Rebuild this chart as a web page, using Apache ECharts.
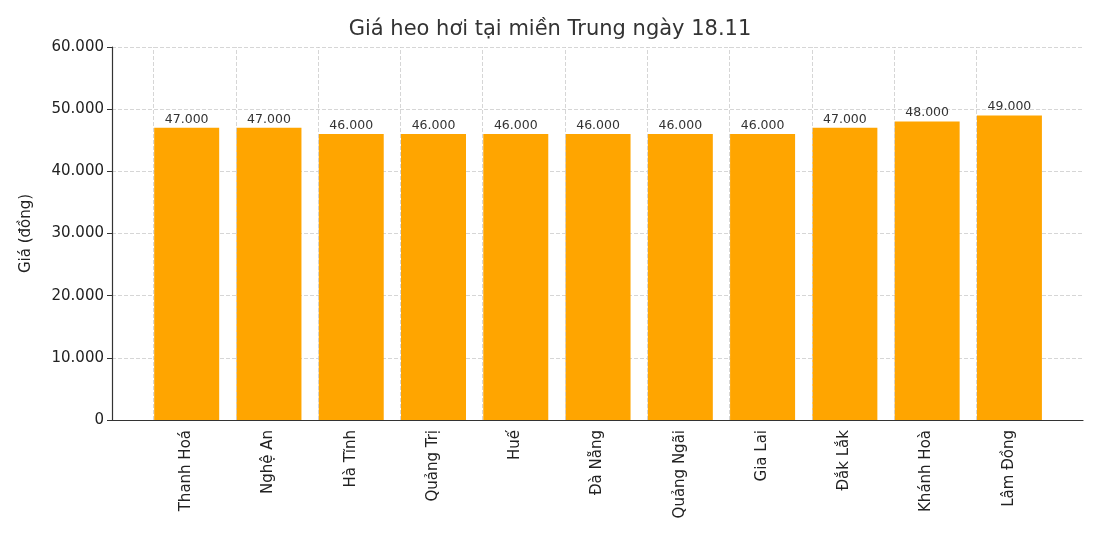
<!DOCTYPE html>
<html>
<head>
<meta charset="utf-8">
<script src="https://cdn.jsdelivr.net/npm/echarts@6/dist/echarts.min.js"></script>
<style>html,body{margin:0;background:#fff}#main{width:1100px;height:550px}</style>
</head>
<body>
<div id="main"></div>
<script>
// 数据
var provinces = ['Thanh Hoá', 'Nghệ An', 'Hà Tĩnh', 'Quảng Trị', 'Huế', 'Đà Nẵng', 'Quảng Ngãi', 'Gia Lai', 'Đắk Lắk', 'Khánh Hoà', 'Lâm Đồng']
var prices = [47000, 47000, 46000, 46000, 46000, 46000, 46000, 46000, 47000, 48000, 49000]
var yMax = 60000
var yStep = 10000

function fmt(v) {
  return String(v).replace(/\B(?=(\d{3})+(?!\d))/g, '.')
}

var font = 'DejaVu Sans'
var myChart = echarts.init(document.getElementById('main'))

var option = {
  textStyle: { fontFamily: font },
  title: {
    text: 'Giá heo hơi tại miền Trung ngày 18.11',
    left: 'center',
    top: 14,
    textStyle: { fontFamily: font, fontSize: 21, fontWeight: 'normal', color: '#333' }
  },
  grid: [
    // 柱子所在的网格
    { left: 145, right: 50, top: 47, height: 373 },
    // 轴线和 y 轴
    { left: 112, right: 17, top: 47, height: 373 }
  ],
  xAxis: [{
      type: 'category',
      gridIndex: 0,
      data: provinces,
      axisLine: { show: false },
      axisTick: { show: false },
      axisLabel: { rotate: 90, fontSize: 15, color: '#222', margin: 10, fontFamily: font }
    },
    {
      type: 'value',
      gridIndex: 1,
      min: 0,
      max: 1,
      axisLine: { show: true, lineStyle: { color: '#333', width: 1.2 } },
      axisTick: { show: false },
      axisLabel: { show: false },
      splitLine: { show: false }
    }
  ],
  yAxis: [{
      type: 'value',
      gridIndex: 0,
      min: 0,
      max: yMax,
      interval: yStep,
      show: false
    },
    {
      type: 'value',
      gridIndex: 1,
      min: 0,
      max: yMax,
      interval: yStep,
      name: 'Giá (đồng)',
      nameLocation: 'middle',
      nameGap: 78,
      nameTextStyle: { fontSize: 15, color: '#222', fontFamily: font },
      axisLine: { show: true, lineStyle: { color: '#333', width: 1.2 } },
      axisTick: { show: true, length: 5, lineStyle: { color: '#333' } },
      axisLabel: { fontSize: 15, color: '#222', formatter: fmt, fontFamily: font },
      splitLine: { show: true, lineStyle: { color: '#ccc', type: [4, 2], width: 0.8 } }
    }
  ],
  series: [{
      // 竖直网格线，放在柱子下面
      type: 'bar',
      xAxisIndex: 0,
      yAxisIndex: 0,
      data: [],
      z: 1,
      silent: true,
      markLine: {
        silent: true,
        symbol: 'none',
        label: { show: false },
        lineStyle: { color: '#ccc', type: [4, 2], width: 0.8 },
        data: provinces.map(function (p) { return { xAxis: p } })
      }
    },
    {
      type: 'bar',
      xAxisIndex: 0,
      yAxisIndex: 0,
      data: prices,
      barWidth: 65,
      z: 3,
      itemStyle: { color: '#FFA500' },
      label: {
        show: true,
        position: 'top',
        distance: 2,
        fontSize: 12.5,
        color: '#333',
        fontFamily: font,
        formatter: function (p) { return fmt(p.value) }
      }
    }
  ]
}

myChart.setOption(option)
</script>
</body>
</html>
